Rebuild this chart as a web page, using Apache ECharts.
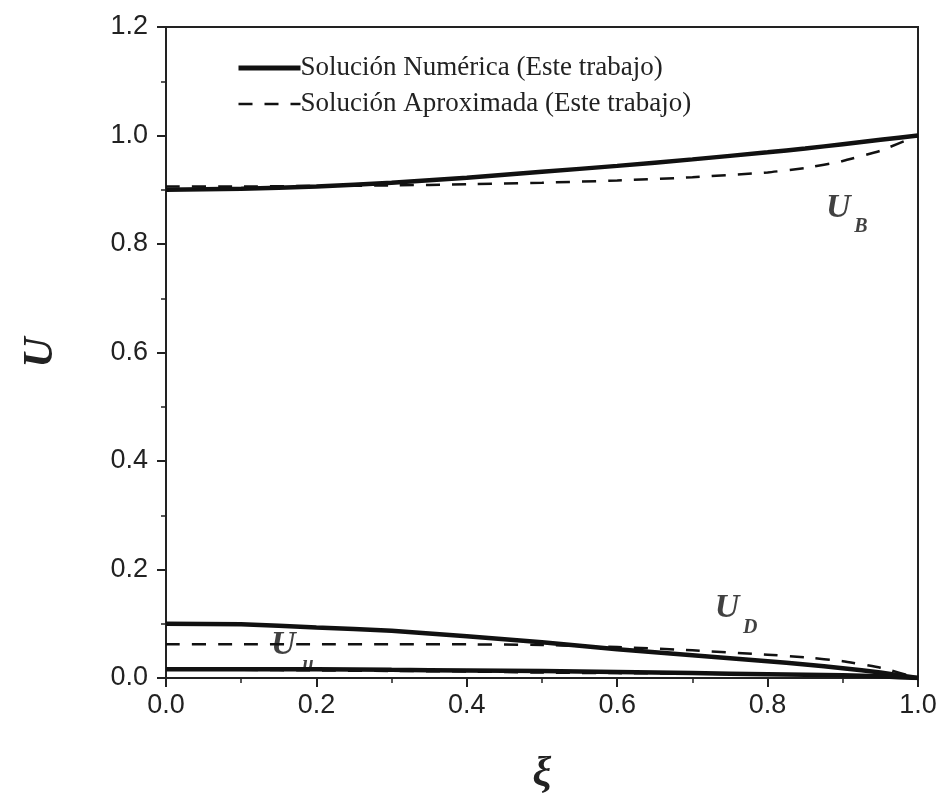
<!DOCTYPE html>
<html>
<head>
<meta charset="utf-8">
<script src="https://cdn.jsdelivr.net/npm/echarts@6/dist/echarts.min.js"></script>
<style>
	html, body { margin: 0; padding: 0; width: 100%; height: 100%; background: #fff; }
	#chartBox { width: 945px; height: 804px; }
</style>
</head>
<body>
<div id="chartBox"></div>
<script>
	// ξ values shared by every curve
	var xi = [0, 0.1, 0.2, 0.3, 0.4, 0.5, 0.6, 0.7, 0.8, 0.85, 0.9, 0.95, 1.0];

	// U_B
	var ubNum = [0.900, 0.902, 0.906, 0.913, 0.922, 0.933, 0.944, 0.956, 0.969, 0.976, 0.984, 0.992, 1.000];
	var ubApx = [0.906, 0.906, 0.907, 0.908, 0.910, 0.913, 0.917, 0.923, 0.932, 0.940, 0.953, 0.972, 1.000];
	// U_D
	var udNum = [0.100, 0.099, 0.093, 0.087, 0.077, 0.066, 0.053, 0.042, 0.031, 0.025, 0.018, 0.010, 0.000];
	var udApx = [0.062, 0.062, 0.062, 0.062, 0.062, 0.061, 0.057, 0.051, 0.043, 0.038, 0.031, 0.019, 0.000];
	// U_u
	var uuNum = [0.016, 0.016, 0.016, 0.015, 0.014, 0.013, 0.011, 0.009, 0.007, 0.006, 0.005, 0.003, 0.000];
	var uuApx = [0.015, 0.015, 0.014, 0.013, 0.012, 0.010, 0.009, 0.008, 0.007, 0.006, 0.005, 0.003, 0.000];

	var xTicks = ['0.0', '0.2', '0.4', '0.6', '0.8', '1.0'];
	var yTicks = ['0.0', '0.2', '0.4', '0.6', '0.8', '1.0', '1.2'];

	var nameNum = 'Solución Numérica (Este trabajo)';
	var nameApx = 'Solución Aproximada (Este trabajo)';

	// curve labels: [ξ, U, text, isSubscript]
	var curveLabels = [
		[0.894, 0.866, 'U', false], [0.924, 0.831, 'B', true],
		[0.746, 0.129, 'U', false], [0.777, 0.092, 'D', true],
		[0.156, 0.061, 'U', false], [0.189, 0.024, 'u', true]
	];

	function pairs(ys) {
		return xi.map(function (x, i) { return [x, ys[i]]; });
	}

	function solid(ys) {
		return {
			name: nameNum, type: 'line', data: pairs(ys), showSymbol: false, symbol: 'none',
			smooth: 0.15, color: '#111',
			lineStyle: { color: '#111', width: 4.5, type: 'solid' }, z: 3
		};
	}

	function dashed(ys) {
		return {
			name: nameApx, type: 'line', data: pairs(ys), showSymbol: false, symbol: 'none',
			smooth: 0.15, color: '#111',
			lineStyle: { color: '#111', width: 2.5, type: [14, 12] }, z: 2
		};
	}

	var chart = echarts.init(document.getElementById('chartBox'));

	var option = {
		animation: false,
		backgroundColor: '#fff',
		grid: {
			left: 166, right: 27, top: 27, bottom: 126,
			show: true, borderColor: '#222', borderWidth: 2
		},
		legend: {
			orient: 'vertical',
			left: 231, top: 49,
			itemWidth: 62, itemHeight: 14, itemGap: 8,
			itemStyle: { opacity: 0 },
			data: [
				{ name: nameNum, lineStyle: { width: 5, color: '#111' } },
				{ name: nameApx, lineStyle: { width: 2.5, color: '#111', type: [14, 12] } }
			],
			textStyle: { fontFamily: 'Liberation Serif', fontSize: 27, lineHeight: 28, color: '#222', padding: [0, 0, 0, -5] }
		},
		xAxis: {
			type: 'value', min: 0, max: 1, interval: 0.2,
			name: 'ξ', nameLocation: 'middle', nameGap: 76,
			nameTextStyle: { fontFamily: 'Liberation Serif', fontStyle: 'italic', fontWeight: 'bold', fontSize: 42, color: '#222' },
			axisLine: { show: true, lineStyle: { color: '#222', width: 2 } },
			axisTick: { show: true, inside: false, length: 9, lineStyle: { color: '#222', width: 2 } },
			minorTick: { show: true, splitNumber: 2, length: 5, lineStyle: { color: '#222', width: 1.5 } },
			splitLine: { show: false },
			axisLabel: {
				margin: 14, fontFamily: 'Liberation Sans', fontSize: 27, color: '#222',
				formatter: function (v) { return xTicks[Math.round(v / 0.2)]; }
			}
		},
		yAxis: {
			type: 'value', min: 0, max: 1.2, interval: 0.2,
			name: 'U', nameLocation: 'middle', nameGap: 104,
			nameTextStyle: { fontFamily: 'Liberation Serif', fontStyle: 'italic', fontWeight: 'bold', fontSize: 42, color: '#222' },
			axisLine: { show: true, lineStyle: { color: '#222', width: 2 } },
			axisTick: { show: true, inside: false, length: 9, lineStyle: { color: '#222', width: 2 } },
			minorTick: { show: true, splitNumber: 2, length: 5, lineStyle: { color: '#222', width: 1.5 } },
			splitLine: { show: false },
			axisLabel: {
				margin: 18, fontFamily: 'Liberation Sans', fontSize: 27, color: '#222',
				formatter: function (v) { return yTicks[Math.round(v / 0.2)]; }
			}
		},
		series: [
			solid(ubNum), dashed(ubApx),
			solid(udNum), dashed(udApx),
			solid(uuNum), dashed(uuApx),
			{
				type: 'scatter', symbolSize: 0, silent: true, z: 5,
				data: curveLabels.map(function (d) { return { value: [d[0], d[1]], sub: d[3], txt: d[2] }; }),
				label: {
					show: true, position: 'inside', color: '#111',
					formatter: function (p) { return p.data.sub ? '{s|' + p.data.txt + '}' : '{u|' + p.data.txt + '}'; },
					rich: {
						u: { fontFamily: 'Liberation Serif', fontStyle: 'italic', fontWeight: 'bold', fontSize: 34, color: '#111' },
						s: { fontFamily: 'Liberation Serif', fontStyle: 'italic', fontWeight: 'bold', fontSize: 20, color: '#111' }
					}
				}
			}
		]
	};

	chart.setOption(option);
</script>
</body>
</html>
